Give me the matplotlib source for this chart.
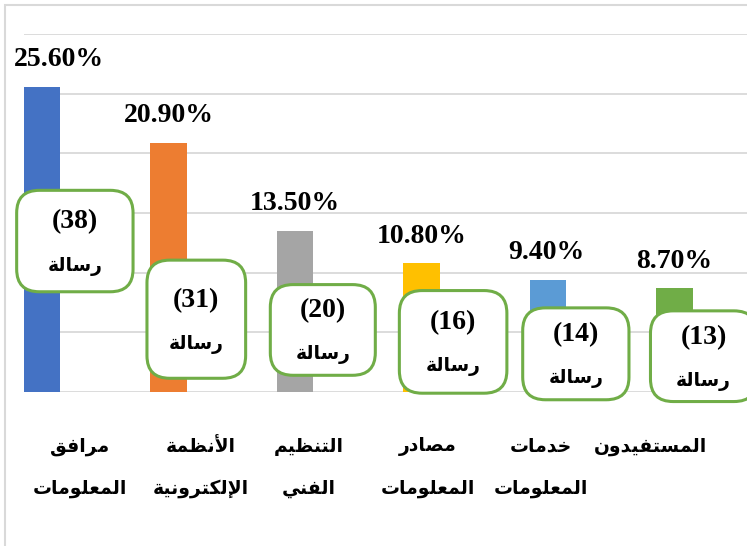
import matplotlib
matplotlib.use("Agg")
import matplotlib.pyplot as plt
from matplotlib.patches import FancyBboxPatch, Rectangle

# data
categories = [["مرافق", "المعلومات"], ["الأنظمة", "الإلكترونية"], ["التنظيم", "الفني"],
              ["مصادر", "المعلومات"], ["خدمات", "المعلومات"], ["المستفيدون"]]
percents = [25.6, 20.9, 13.5, 10.8, 9.4, 8.7]
counts = [38, 31, 20, 16, 14, 13]
unit_word = "رسالة"

colors = ["#4472c4", "#ed7d31", "#a5a5a5", "#ffc000", "#5b9bd5", "#70ad47"]

# layout tweaks (pixels / data units) to follow the original placement
pct_dx = [17, 0, 0, 0, -2, 0]
cat_dx = [38, 32, 14, 6, -7, -24]
box_dx = [0.26, 0.22, 0.22, 0.25, 0.22, 0.23]
box_y = [12.65, 6.1, 5.2, 4.2, 3.2, 3.0]
box_h = [8.5, 9.9, 7.6, 8.6, 7.7, 7.6]
box_w = [0.92, 0.78, 0.83, 0.85, 0.84, 0.84]

# --- tiny arabic shaper (matplotlib has no shaping / bidi) ---
FORMS = {
    'ا': ('\uFE8D', '\uFE8E', None, None),
    'أ': ('\uFE83', '\uFE84', None, None),
    'إ': ('\uFE87', '\uFE88', None, None),
    'ة': ('\uFE93', '\uFE94', None, None),
    'د': ('\uFEA9', '\uFEAA', None, None),
    'ر': ('\uFEAD', '\uFEAE', None, None),
    'و': ('\uFEED', '\uFEEE', None, None),
    'ت': ('\uFE95', '\uFE96', '\uFE97', '\uFE98'),
    'خ': ('\uFEA5', '\uFEA6', '\uFEA7', '\uFEA8'),
    'س': ('\uFEB1', '\uFEB2', '\uFEB3', '\uFEB4'),
    'ص': ('\uFEB9', '\uFEBA', '\uFEBB', '\uFEBC'),
    'ظ': ('\uFEC5', '\uFEC6', '\uFEC7', '\uFEC8'),
    'ع': ('\uFEC9', '\uFECA', '\uFECB', '\uFECC'),
    'ف': ('\uFED1', '\uFED2', '\uFED3', '\uFED4'),
    'ق': ('\uFED5', '\uFED6', '\uFED7', '\uFED8'),
    'ك': ('\uFED9', '\uFEDA', '\uFEDB', '\uFEDC'),
    'ل': ('\uFEDD', '\uFEDE', '\uFEDF', '\uFEE0'),
    'م': ('\uFEE1', '\uFEE2', '\uFEE3', '\uFEE4'),
    'ن': ('\uFEE5', '\uFEE6', '\uFEE7', '\uFEE8'),
    'ي': ('\uFEF1', '\uFEF2', '\uFEF3', '\uFEF4'),
}
LAM_ALEF = {'ا': ('\uFEFB', '\uFEFC'), 'أ': ('\uFEF7', '\uFEF8'), 'إ': ('\uFEF9', '\uFEFA')}


def shape(text):
    toks = []
    i = 0
    while i < len(text):
        c = text[i]
        if c == 'ل' and i + 1 < len(text) and text[i + 1] in LAM_ALEF:
            toks.append(LAM_ALEF[text[i + 1]] + (None, None))
            i += 2
        elif c in FORMS:
            toks.append(FORMS[c])
            i += 1
        else:
            toks.append(c)
            i += 1
    out = []
    for k, t in enumerate(toks):
        if isinstance(t, str):
            out.append(t)
            continue
        prev = toks[k - 1] if k > 0 else None
        nxt = toks[k + 1] if k + 1 < len(toks) else None
        jp = isinstance(prev, tuple) and prev[2] is not None
        jn = t[2] is not None and isinstance(nxt, tuple)
        if jp and jn:
            out.append(t[3])
        elif jp:
            out.append(t[1])
        elif jn:
            out.append(t[2])
        else:
            out.append(t[0])
    return "".join(out)[::-1]


serif = "Liberation Serif"
arab = ["DejaVu Sans"]

fig = plt.figure(figsize=(7.47, 5.46), dpi=100)
fig.patches.append(Rectangle((5 / 747, -0.1), 1.2, 1.1 - 5 / 546, transform=fig.transFigure,
                             fill=False, edgecolor="#d9d9d9", lw=1.5))
ax = fig.add_axes([24 / 747, 1 - 392 / 546, 1 - 24 / 747, (392 - 34) / 546])

x = list(range(len(percents)))
ax.bar(x, percents, width=0.285, color=colors, zorder=2)
ax.set_xlim(-0.142, 5.573)
ax.set_ylim(0, 30)
ax.set_yticks([0, 5, 10, 15, 20, 25, 30])
ax.yaxis.grid(True, color="#d9d9d9", lw=1.3, zorder=0)
ax.tick_params(left=False, bottom=False, labelleft=False, labelbottom=False)
for s in ax.spines.values():
    s.set_visible(False)

for i, v in enumerate(percents):
    ax.annotate(f"{v:.2f}%", (i, v), xytext=(pct_dx[i], 27), textcoords="offset pixels",
                ha="center", va="center", fontsize=20, fontweight="bold", family=serif,
                annotation_clip=False)

for i, n in enumerate(counts):
    cx = i + box_dx[i]
    w, h = box_w[i], box_h[i]
    ax.add_patch(FancyBboxPatch((cx - w / 2, box_y[i] - h / 2), w, h,
                                boxstyle="round,pad=0,rounding_size=0.18",
                                mutation_aspect=10.5, facecolor="white",
                                edgecolor="#70ad47", lw=2.2, zorder=3, clip_on=False))
    ax.annotate(f"({n})", (cx, box_y[i]), xytext=(0, 19), textcoords="offset pixels",
                ha="center", va="center", fontsize=20, fontweight="bold", family=serif,
                zorder=4, annotation_clip=False)
    ax.annotate(shape(unit_word), (cx, box_y[i]), xytext=(0, -25), textcoords="offset pixels",
                ha="center", va="center", fontsize=13.5, fontweight="bold", family=arab,
                zorder=4, annotation_clip=False)

for i, lines in enumerate(categories):
    for j, line in enumerate(lines):
        ax.annotate(shape(line), (i, 0), xytext=(cat_dx[i], -54 - 42 * j),
                    textcoords="offset pixels", ha="center", va="center",
                    fontsize=13.5, fontweight="bold", family=arab, annotation_clip=False)

fig.savefig("out.png", dpi=100)
